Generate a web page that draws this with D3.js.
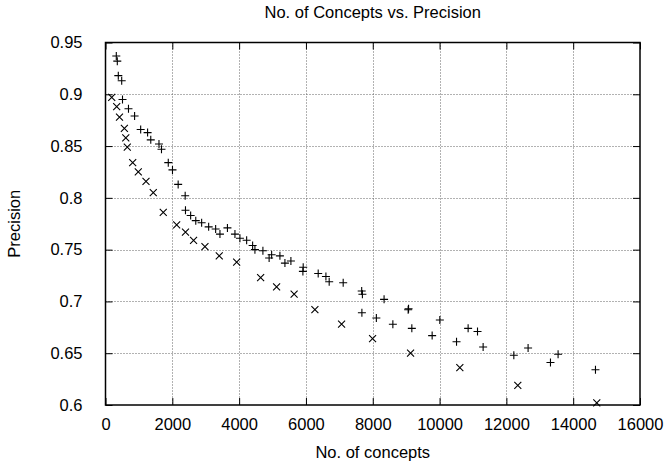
<!DOCTYPE html>
<html>
<head>
<meta charset="utf-8">
<script src="https://cdn.jsdelivr.net/npm/d3@7"></script>
<style>
  html, body { margin: 0; padding: 0; background: #fff; }
  svg { display: block; }
  text { font-family: "Liberation Sans", Arial, Helvetica, sans-serif; fill: #000; }
</style>
</head>
<body>
<div id="chart"></div>
<script>
// No. of concepts vs. precision — two scatter series (+ and x), gnuplot look.

const xTicks = [0, 2000, 4000, 6000, 8000, 10000, 12000, 14000, 16000];
const yTicks = [0.6, 0.65, 0.7, 0.75, 0.8, 0.85, 0.9, 0.95];
const yTickLabels = ["0.6", "0.65", "0.7", "0.75", "0.8", "0.85", "0.9", "0.95"];

// series drawn with "+"
const plusX = [323, 353, 383, 485, 509, 688, 871, 1053, 1260, 1355, 1601, 1676, 1879, 2005, 2175,
  2385, 2394, 2549, 2702, 2878, 3088, 3297, 3426, 3650, 3875, 4024, 4225, 4404, 4473, 4712,
  4898, 4973, 5221, 5371, 5550, 5918, 5909, 6367, 6598, 6696, 7115, 7669, 7690, 8339, 7675,
  8108, 8602, 9072, 9060, 9170, 9778, 10008, 10508, 10855, 11136, 11304, 12223, 12650, 13320,
  13548, 14667];
const plusY = [0.937, 0.932, 0.918, 0.913, 0.895, 0.886, 0.879, 0.866, 0.863, 0.856, 0.852, 0.847, 0.834, 0.827, 0.813,
  0.802, 0.788, 0.783, 0.778, 0.776, 0.772, 0.770, 0.765, 0.771, 0.765, 0.761, 0.759, 0.754, 0.750, 0.749,
  0.742, 0.745, 0.744, 0.737, 0.739, 0.733, 0.729, 0.727, 0.724, 0.719, 0.718, 0.710, 0.707, 0.702, 0.689,
  0.684, 0.678, 0.693, 0.692, 0.674, 0.667, 0.682, 0.661, 0.674, 0.671, 0.656, 0.648, 0.655, 0.641,
  0.649, 0.634];

// series drawn with "x"
const crossX = [186, 335, 419, 565, 607, 652, 814, 981, 1212, 1430, 1729, 2130, 2394, 2636, 2977,
  3405, 3926, 4644, 5122, 5646, 6268, 7067, 7995, 9132, 10607, 12342, 14706];
const crossY = [0.897, 0.888, 0.878, 0.867, 0.858, 0.849, 0.834, 0.825, 0.816, 0.805, 0.786, 0.774, 0.767, 0.759, 0.753,
  0.744, 0.738, 0.723, 0.714, 0.707, 0.692, 0.678, 0.664, 0.650, 0.636, 0.619, 0.602];

const W = 668, H = 468;
const m = { t: 42.5, r: 28, b: 63, l: 105.5 };
const fontSize = 16.5;

const svg = d3.select("#chart").append("svg").attr("width", W).attr("height", H);

const x = d3.scaleLinear().domain([0, 16000]).range([m.l, W - m.r]);
const y = d3.scaleLinear().domain([0.6, 0.95]).range([H - m.b, m.t]);
const [x0, x1] = x.range(), [y1, y0] = y.range();

// dotted grid
const grid = svg.append("g").attr("stroke", "#000").attr("stroke-width", 1)
  .attr("stroke-dasharray", "1,2").attr("opacity", 0.6);
grid.selectAll(".gx").data(xTicks.slice(1, -1)).join("line")
  .attr("x1", (d) => Math.round(x(d)) + 0.5).attr("x2", (d) => Math.round(x(d)) + 0.5)
  .attr("y1", y0).attr("y2", y1);
grid.selectAll(".gy").data(yTicks.slice(1, -1)).join("line")
  .attr("y1", (d) => Math.round(y(d)) + 0.5).attr("y2", (d) => Math.round(y(d)) + 0.5)
  .attr("x1", x0).attr("x2", x1);

// axes, ticks pointing inward on all four sides
const tk = 7;
const gBottom = svg.append("g").attr("transform", `translate(0,${y1})`)
  .call(d3.axisBottom(x).tickValues(xTicks).tickFormat(d3.format("d")).tickSize(-tk).tickPadding(tk + 6));
const gTop = svg.append("g").attr("transform", `translate(0,${y0})`)
  .call(d3.axisTop(x).tickValues(xTicks).tickSize(-tk).tickFormat(""));
const gLeft = svg.append("g").attr("transform", `translate(${x0},0)`)
  .call(d3.axisLeft(y).tickValues(yTicks).tickFormat((d, i) => yTickLabels[i]).tickSize(-tk).tickPadding(tk + 16));
const gRight = svg.append("g").attr("transform", `translate(${x1},0)`)
  .call(d3.axisRight(y).tickValues(yTicks).tickSize(-tk).tickFormat(""));
[gBottom, gTop, gLeft, gRight].forEach((g) => {
  g.select(".domain").remove();
  g.selectAll("line").attr("stroke", "#000");
  g.selectAll("text").style("font-size", fontSize + "px").attr("fill", "#000");
});

svg.append("rect").attr("x", x0).attr("y", y0).attr("width", x1 - x0).attr("height", y1 - y0)
  .attr("fill", "none").attr("stroke", "#000").attr("stroke-width", 1.5);

// markers
const s = 4, c = 3.5;
const plusData = plusX.map((v, i) => [v, plusY[i]]);
const crossData = crossX.map((v, i) => [v, crossY[i]]);
svg.append("g").selectAll("path").data(plusData).join("path")
  .attr("d", (d) => `M${x(d[0]) - s},${y(d[1])}h${2 * s}M${x(d[0])},${y(d[1]) - s}v${2 * s}`)
  .attr("stroke", "#000").attr("stroke-width", 1.1).attr("fill", "none");
svg.append("g").selectAll("path").data(crossData).join("path")
  .attr("d", (d) => `M${x(d[0]) - c},${y(d[1]) - c}l${2 * c},${2 * c}M${x(d[0]) - c},${y(d[1]) + c}l${2 * c},${-2 * c}`)
  .attr("stroke", "#000").attr("stroke-width", 1.1).attr("fill", "none");

// titles
svg.append("text").attr("x", (x0 + x1) / 2).attr("y", 18).attr("text-anchor", "middle")
  .style("font-size", fontSize + "px").text("No. of Concepts vs. Precision");
svg.append("text").attr("x", (x0 + x1) / 2).attr("y", 458).attr("text-anchor", "middle")
  .style("font-size", fontSize + "px").text("No. of concepts");
svg.append("text").attr("transform", `translate(20,${(y0 + y1) / 2}) rotate(-90)`).attr("text-anchor", "middle")
  .style("font-size", fontSize + "px").text("Precision");
</script>
</body>
</html>
